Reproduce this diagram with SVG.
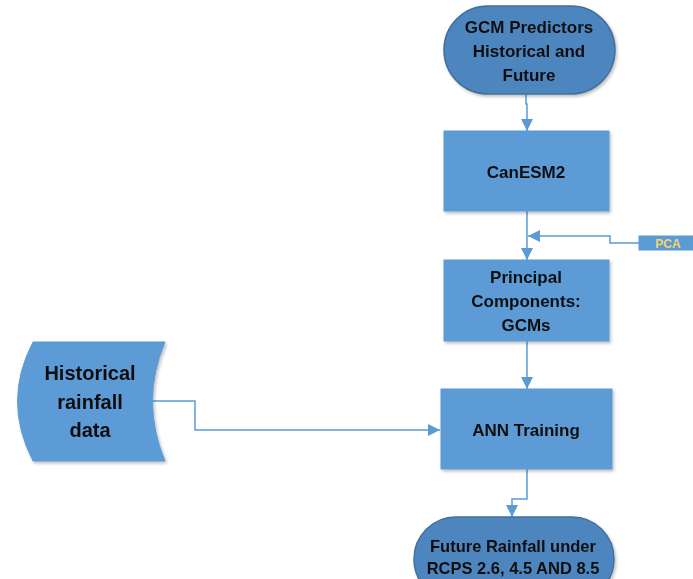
<svg xmlns="http://www.w3.org/2000/svg" width="693" height="579" viewBox="0 0 693 579">
<defs>
<style>
.box{fill:#5b9bd5;stroke:#5b9bd5;stroke-width:1}
.term{fill:#4e86bf;stroke:#41719c;stroke-width:1.5}
.t{font-family:"Liberation Sans",Arial,sans-serif;font-weight:bold;font-size:17px;fill:#111;text-anchor:middle;dominant-baseline:central}
.big{font-size:20px}
.sm{font-size:16.5px}
.pca{font-size:12px;fill:#f7d46a}
.con{fill:none;stroke:#5b9bd5;stroke-width:1.5}
</style>
<marker id="ah" markerUnits="userSpaceOnUse" markerWidth="14" markerHeight="14" refX="12" refY="6" orient="auto">
<path d="M0,0 L12,6 L0,12 z" fill="#5b9bd5"/>
</marker>
<filter id="sh" x="-10%" y="-10%" width="130%" height="130%">
<feDropShadow dx="1.5" dy="2" stdDeviation="1.5" flood-color="#000" flood-opacity="0.25"/>
</filter>
</defs>
<rect width="693" height="579" fill="#fff"/>
<g id="connectors">
<path class="con" d="M526 94 V104 H527 V131" marker-end="url(#ah)"/>
<path class="con" d="M527 211 V260" marker-end="url(#ah)"/>
<path class="con" d="M639 243 H610 V236 H528" marker-end="url(#ah)"/>
<path class="con" d="M527 341 V389" marker-end="url(#ah)"/>
<path class="con" d="M152 401 H195 V430 H440" marker-end="url(#ah)"/>
<path class="con" d="M527 469 V499 H512 V517" marker-end="url(#ah)"/>
</g>
<g id="gcm" filter="url(#sh)">
<rect class="term" x="444" y="6" width="171" height="88" rx="44"/>
<text class="t" x="529" y="27">GCM Predictors</text>
<text class="t" x="529" y="51">Historical and</text>
<text class="t" x="529" y="75">Future</text>
</g>
<g id="canesm2" filter="url(#sh)">
<rect class="box" x="444" y="131" width="165" height="80"/>
<text class="t" x="526" y="172">CanESM2</text>
</g>
<g id="pca">
<rect class="box" x="639" y="236" width="60" height="14"/>
<text class="t pca" x="668" y="243.5">PCA</text>
</g>
<g id="principal" filter="url(#sh)">
<rect class="box" x="444" y="260" width="165" height="81"/>
<text class="t" x="526" y="277">Principal</text>
<text class="t" x="526" y="301">Components:</text>
<text class="t" x="526" y="325">GCMs</text>
</g>
<g id="historical" filter="url(#sh)">
<path class="box" d="M33 342 L165 342 Q140 401 165 461 L33 461 Q2 401 33 342 Z"/>
<text class="t big" x="90" y="373">Historical</text>
<text class="t big" x="90" y="402">rainfall</text>
<text class="t big" x="90" y="430">data</text>
</g>
<g id="ann" filter="url(#sh)">
<rect class="box" x="441" y="389" width="171" height="80"/>
<text class="t" x="526" y="430">ANN Training</text>
</g>
<g id="future" filter="url(#sh)">
<rect class="term" x="414" y="517" width="200" height="84" rx="42"/>
<text class="t sm" x="513" y="546">Future Rainfall under</text>
<text class="t sm" x="513" y="568">RCPS 2.6, 4.5 AND 8.5</text>
</g>
</svg>
